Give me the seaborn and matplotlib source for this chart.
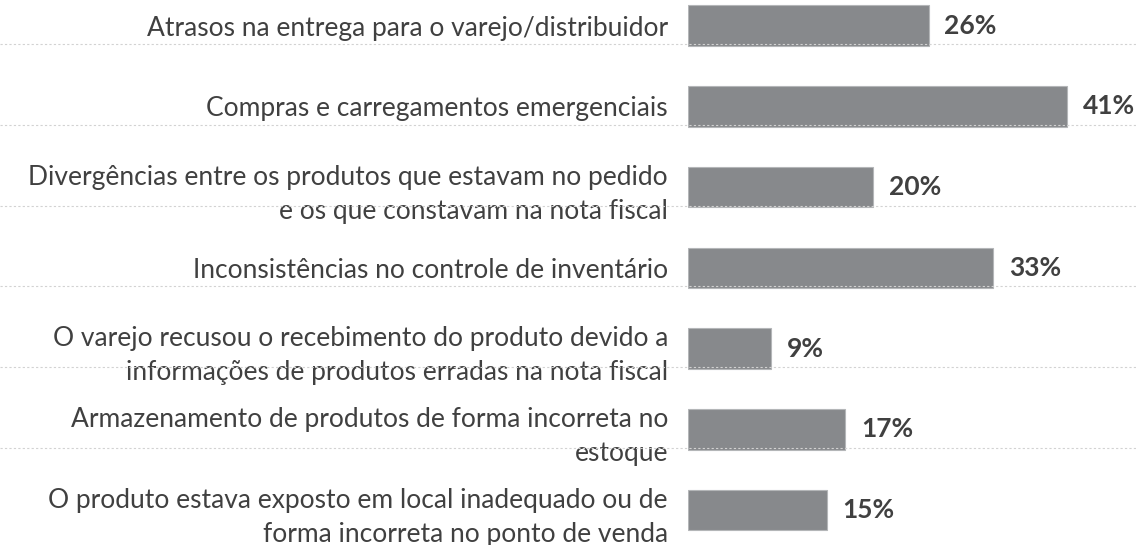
import matplotlib
matplotlib.use('Agg')
import matplotlib.pyplot as plt
import seaborn as sns
import pandas as pd

# dados
categorias = [
    'Atrasos na entrega para o varejo/distribuidor',
    'Compras e carregamentos emergenciais',
    'Divergências entre os produtos que estavam no pedido\ne os que constavam na nota fiscal',
    'Inconsistências no controle de inventário',
    'O varejo recusou o recebimento do produto devido a\ninformações de produtos erradas na nota fiscal',
    'Armazenamento de produtos de forma incorreta no\nestoque',
    'O produto estava exposto em local inadequado ou de\nforma incorreta no ponto de venda',
]
percentuais = [26, 41, 20, 33, 9, 17, 15]
rotulos = [f'{v}%' for v in percentuais]

df = pd.DataFrame({'categoria': categorias, 'pct': percentuais})

sns.set_style('white')
plt.rcParams['font.family'] = ['Lato', 'DejaVu Sans']

fig = plt.figure(figsize=(11.36, 5.45), dpi=100)
ax = fig.add_axes([688 / 1136, 0, 448 / 1136, 1])

sns.barplot(data=df, y='categoria', x='pct', color='#87898c', saturation=1,
            width=0.5, edgecolor='#b4b6b8', linewidth=0.8, ax=ax)

ax.set_xlim(0, 48.43)
ax.set_ylim(6.43, -0.316)
for s in ax.spines.values():
    s.set_visible(False)
ax.set_xticks([])
ax.set_xlabel('')
ax.set_ylabel('')
ax.tick_params(axis='y', length=0, pad=14.4, labelsize=19, labelcolor='#404040')
for t in ax.get_yticklabels():
    t.set_multialignment('right')
    t.set_linespacing(1.45)

# linhas pontilhadas entre as linhas
for i in range(len(categorias) - 1):
    ax.axhline(i + 0.23, xmin=-688 / 448, xmax=1, clip_on=False,
               color='#d2d2d2', lw=0.8, ls=(0, (2, 2)), zorder=3)

ax.bar_label(ax.containers[0], labels=rotulos, padding=11.5,
             fontsize=19, fontweight='bold', color='#404040')

fig.savefig('out.png', dpi=100)
